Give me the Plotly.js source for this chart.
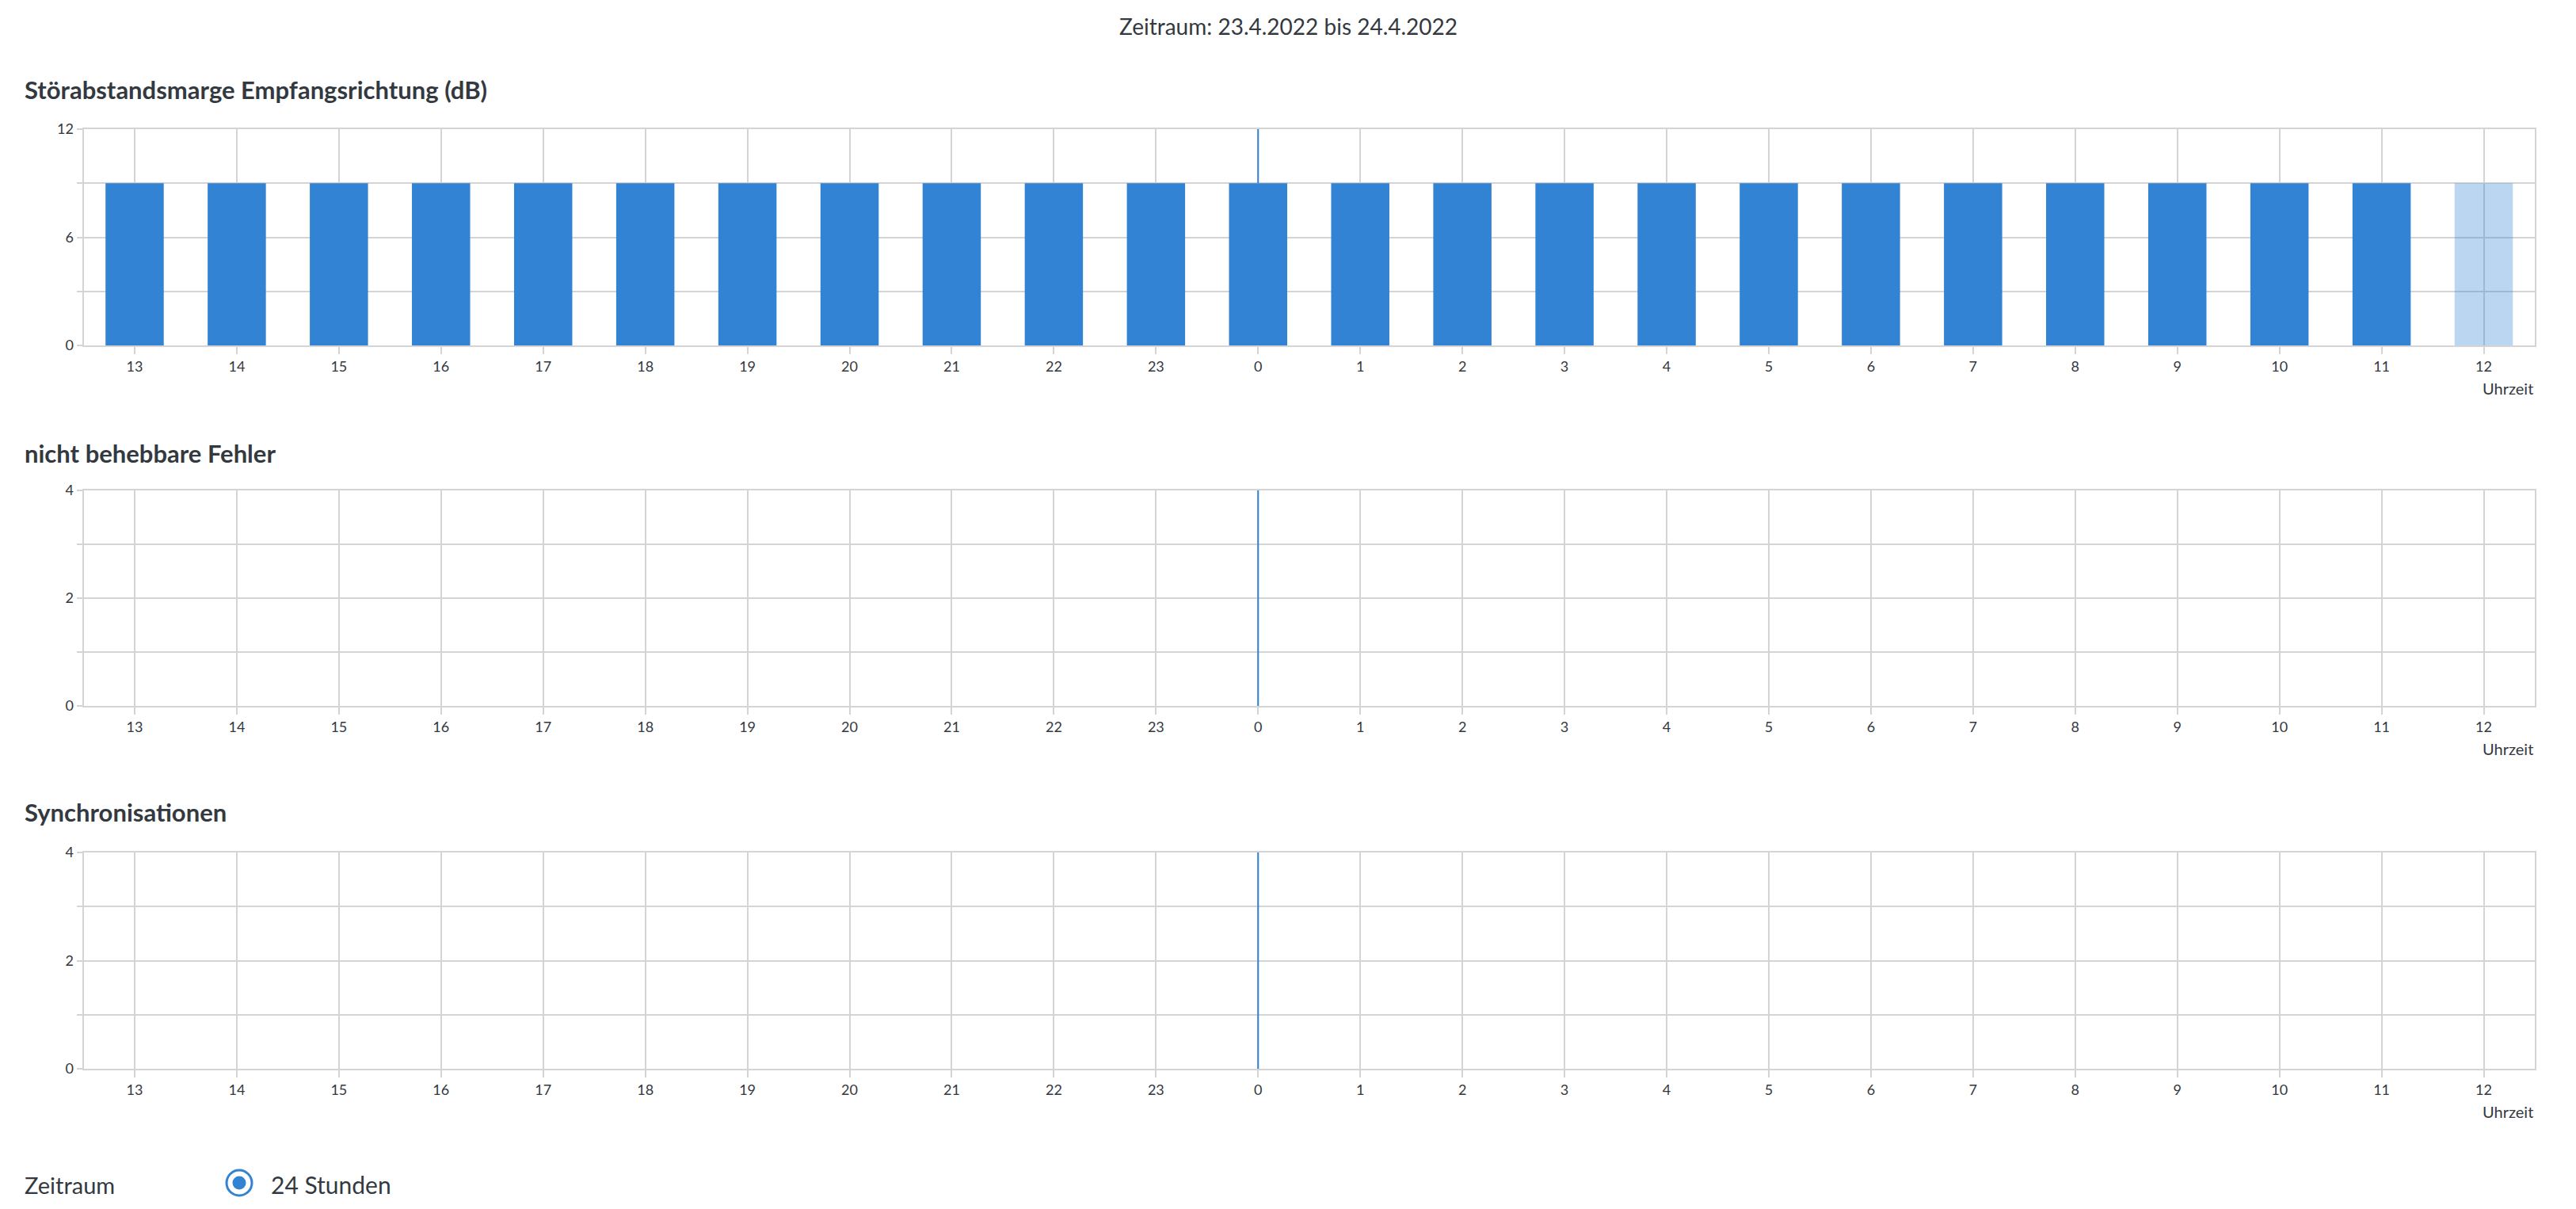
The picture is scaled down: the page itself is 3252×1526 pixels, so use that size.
<!DOCTYPE html>
<html>
<head>
<meta charset="utf-8">
<script src="https://cdn.plot.ly/plotly-3.0.1.min.js"></script>
<style>
html,body{margin:0;padding:0;background:#fff;}
#chart{width:3252px;height:1526px;}
</style>
</head>
<body>
<div id="chart"></div>
<script>
// ---- data ----
const hours = ['13','14','15','16','17','18','19','20','21','22','23','0','1','2','3','4','5','6','7','8','9','10','11','12'];
const snrMargin = [9,9,9,9,9,9,9,9,9,9,9,9,9,9,9,9,9,9,9,9,9,9,9,9];
const uncorrectableErrors = [0,0,0,0,0,0,0,0,0,0,0,0,0,0,0,0,0,0,0,0,0,0,0,0];
const resyncs = [0,0,0,0,0,0,0,0,0,0,0,0,0,0,0,0,0,0,0,0,0,0,0,0];
const snrTicks = [0,3,6,9,12];
const snrTickText = ['0','','6','','12'];
const countTicks = [0,1,2,3,4];
const countTickText = ['0','','2','','4'];
const dayBoundary = '0';

const panelTitles = ['Störabstandsmarge Empfangsrichtung (dB)','nicht behebbare Fehler','Synchronisationen'];
const mainTitle = 'Zeitraum: 23.4.2022 bis 24.4.2022';
const xAxisLabel = 'Uhrzeit';
const periodLabel = 'Zeitraum';
const periodOption = '24 Stunden';

// ---- style ----
const W = 3252, H = 1526;
const BLUE = 'rgb(50,131,212)';
const BLUE_LIGHT = 'rgba(50,131,212,0.33)';
const GRID = '#d4d4d4';
const TEXT = '#33393f';
const FONT = 'Lato, "Noto Sans", sans-serif';

const px = v => v / W;
const py = v => 1 - v / H;

const xDom = [px(105.5), px(3200)];
const panels = [
  {top:163, bottom:436, max:12},
  {top:619, bottom:891, max:4},
  {top:1076, bottom:1349, max:4}
];

const barColors = hours.map((h, i) => i === hours.length - 1 ? BLUE_LIGHT : BLUE);

const series = [snrMargin, uncorrectableErrors, resyncs];
const traces = series.map((vals, i) => ({
  type: 'bar',
  x: hours,
  y: vals,
  xaxis: i === 0 ? 'x' : 'x' + (i + 1),
  yaxis: i === 0 ? 'y' : 'y' + (i + 1),
  width: 0.57,
  marker: {color: barColors, line: {width: 0}},
  hoverinfo: 'skip',
  showlegend: false
}));

function xaxis(i) {
  return {
    type: 'category',
    categoryorder: 'array', categoryarray: hours,
    domain: xDom,
    anchor: i === 0 ? 'y' : 'y' + (i + 1),
    range: [-0.5, hours.length - 0.5],
    showgrid: true, gridcolor: GRID, gridwidth: 2,
    showline: true, linecolor: GRID, linewidth: 2, mirror: true,
    ticks: 'outside', ticklen: 9, tickcolor: GRID, tickwidth: 2,
    tickfont: {family: FONT, size: 18, color: TEXT},
    zeroline: false, fixedrange: true
  };
}
function yaxis(i, tv, tt) {
  const p = panels[i];
  return {
    domain: [py(p.bottom), py(p.top)],
    anchor: i === 0 ? 'x' : 'x' + (i + 1),
    range: [0, p.max],
    tickvals: tv, ticktext: tt,
    showgrid: true, gridcolor: GRID, gridwidth: 2,
    showline: true, linecolor: GRID, linewidth: 2, mirror: true,
    ticks: 'outside', ticklen: 7, tickcolor: GRID, tickwidth: 2,
    tickfont: {family: FONT, size: 18, color: TEXT},
    zeroline: false, fixedrange: true
  };
}

const annotations = [];
annotations.push({xref:'paper', yref:'paper', x:0.5, y:py(33), xanchor:'center', yanchor:'middle',
  text: mainTitle, showarrow:false, font:{family:FONT, size:28, color:TEXT}});
const titleY = [113, 572, 1025];
panelTitles.forEach((t, i) => {
  annotations.push({xref:'paper', yref:'paper', x:px(29), y:py(titleY[i]), xanchor:'left', yanchor:'middle',
    text:'<b>' + t + '</b>', showarrow:false, font:{family:FONT, size:31, color:TEXT}});
  annotations.push({xref:'paper', yref:'paper', x:xDom[1], y:py(panels[i].bottom + 54), xanchor:'right', yanchor:'middle',
    text: xAxisLabel, showarrow:false, font:{family:FONT, size:20, color:TEXT}});
});
annotations.push({xref:'paper', yref:'paper', x:px(29), y:py(1495), xanchor:'left', yanchor:'middle',
  text: periodLabel, showarrow:false, font:{family:FONT, size:29, color:TEXT}});
annotations.push({xref:'paper', yref:'paper', x:px(340), y:py(1495), xanchor:'left', yanchor:'middle',
  text: periodOption, showarrow:false, font:{family:FONT, size:30, color:TEXT}});

const shapes = [];
const xi = hours.indexOf(dayBoundary);
panels.forEach((p, i) => {
  shapes.push({type:'line', layer:'above',
    xref: i === 0 ? 'x' : 'x' + (i + 1),
    yref: i === 0 ? 'y' : 'y' + (i + 1),
    x0: xi, x1: xi, y0: series[i][xi], y1: p.max,
    line:{color: BLUE, width: 2}});
});
// radio button
shapes.push({type:'circle', xref:'paper', yref:'paper',
  x0:px(302-16), x1:px(302+16), y0:py(1493+16), y1:py(1493-16),
  line:{color:BLUE, width:3}, fillcolor:'#fff'});
shapes.push({type:'circle', xref:'paper', yref:'paper',
  x0:px(302-8.5), x1:px(302+8.5), y0:py(1493+8.5), y1:py(1493-8.5),
  line:{width:0}, fillcolor:BLUE});

const layout = {
  width: W, height: H,
  margin: {l:0, r:0, t:0, b:0},
  paper_bgcolor: '#fff', plot_bgcolor: '#fff',
  font: {family: FONT, color: TEXT},
  showlegend: false,
  xaxis: xaxis(0), xaxis2: xaxis(1), xaxis3: xaxis(2),
  yaxis: yaxis(0, snrTicks, snrTickText),
  yaxis2: yaxis(1, countTicks, countTickText),
  yaxis3: yaxis(2, countTicks, countTickText),
  annotations: annotations,
  shapes: shapes
};

Plotly.newPlot('chart', traces, layout, {displayModeBar:false, staticPlot:true});
</script>
</body>
</html>
